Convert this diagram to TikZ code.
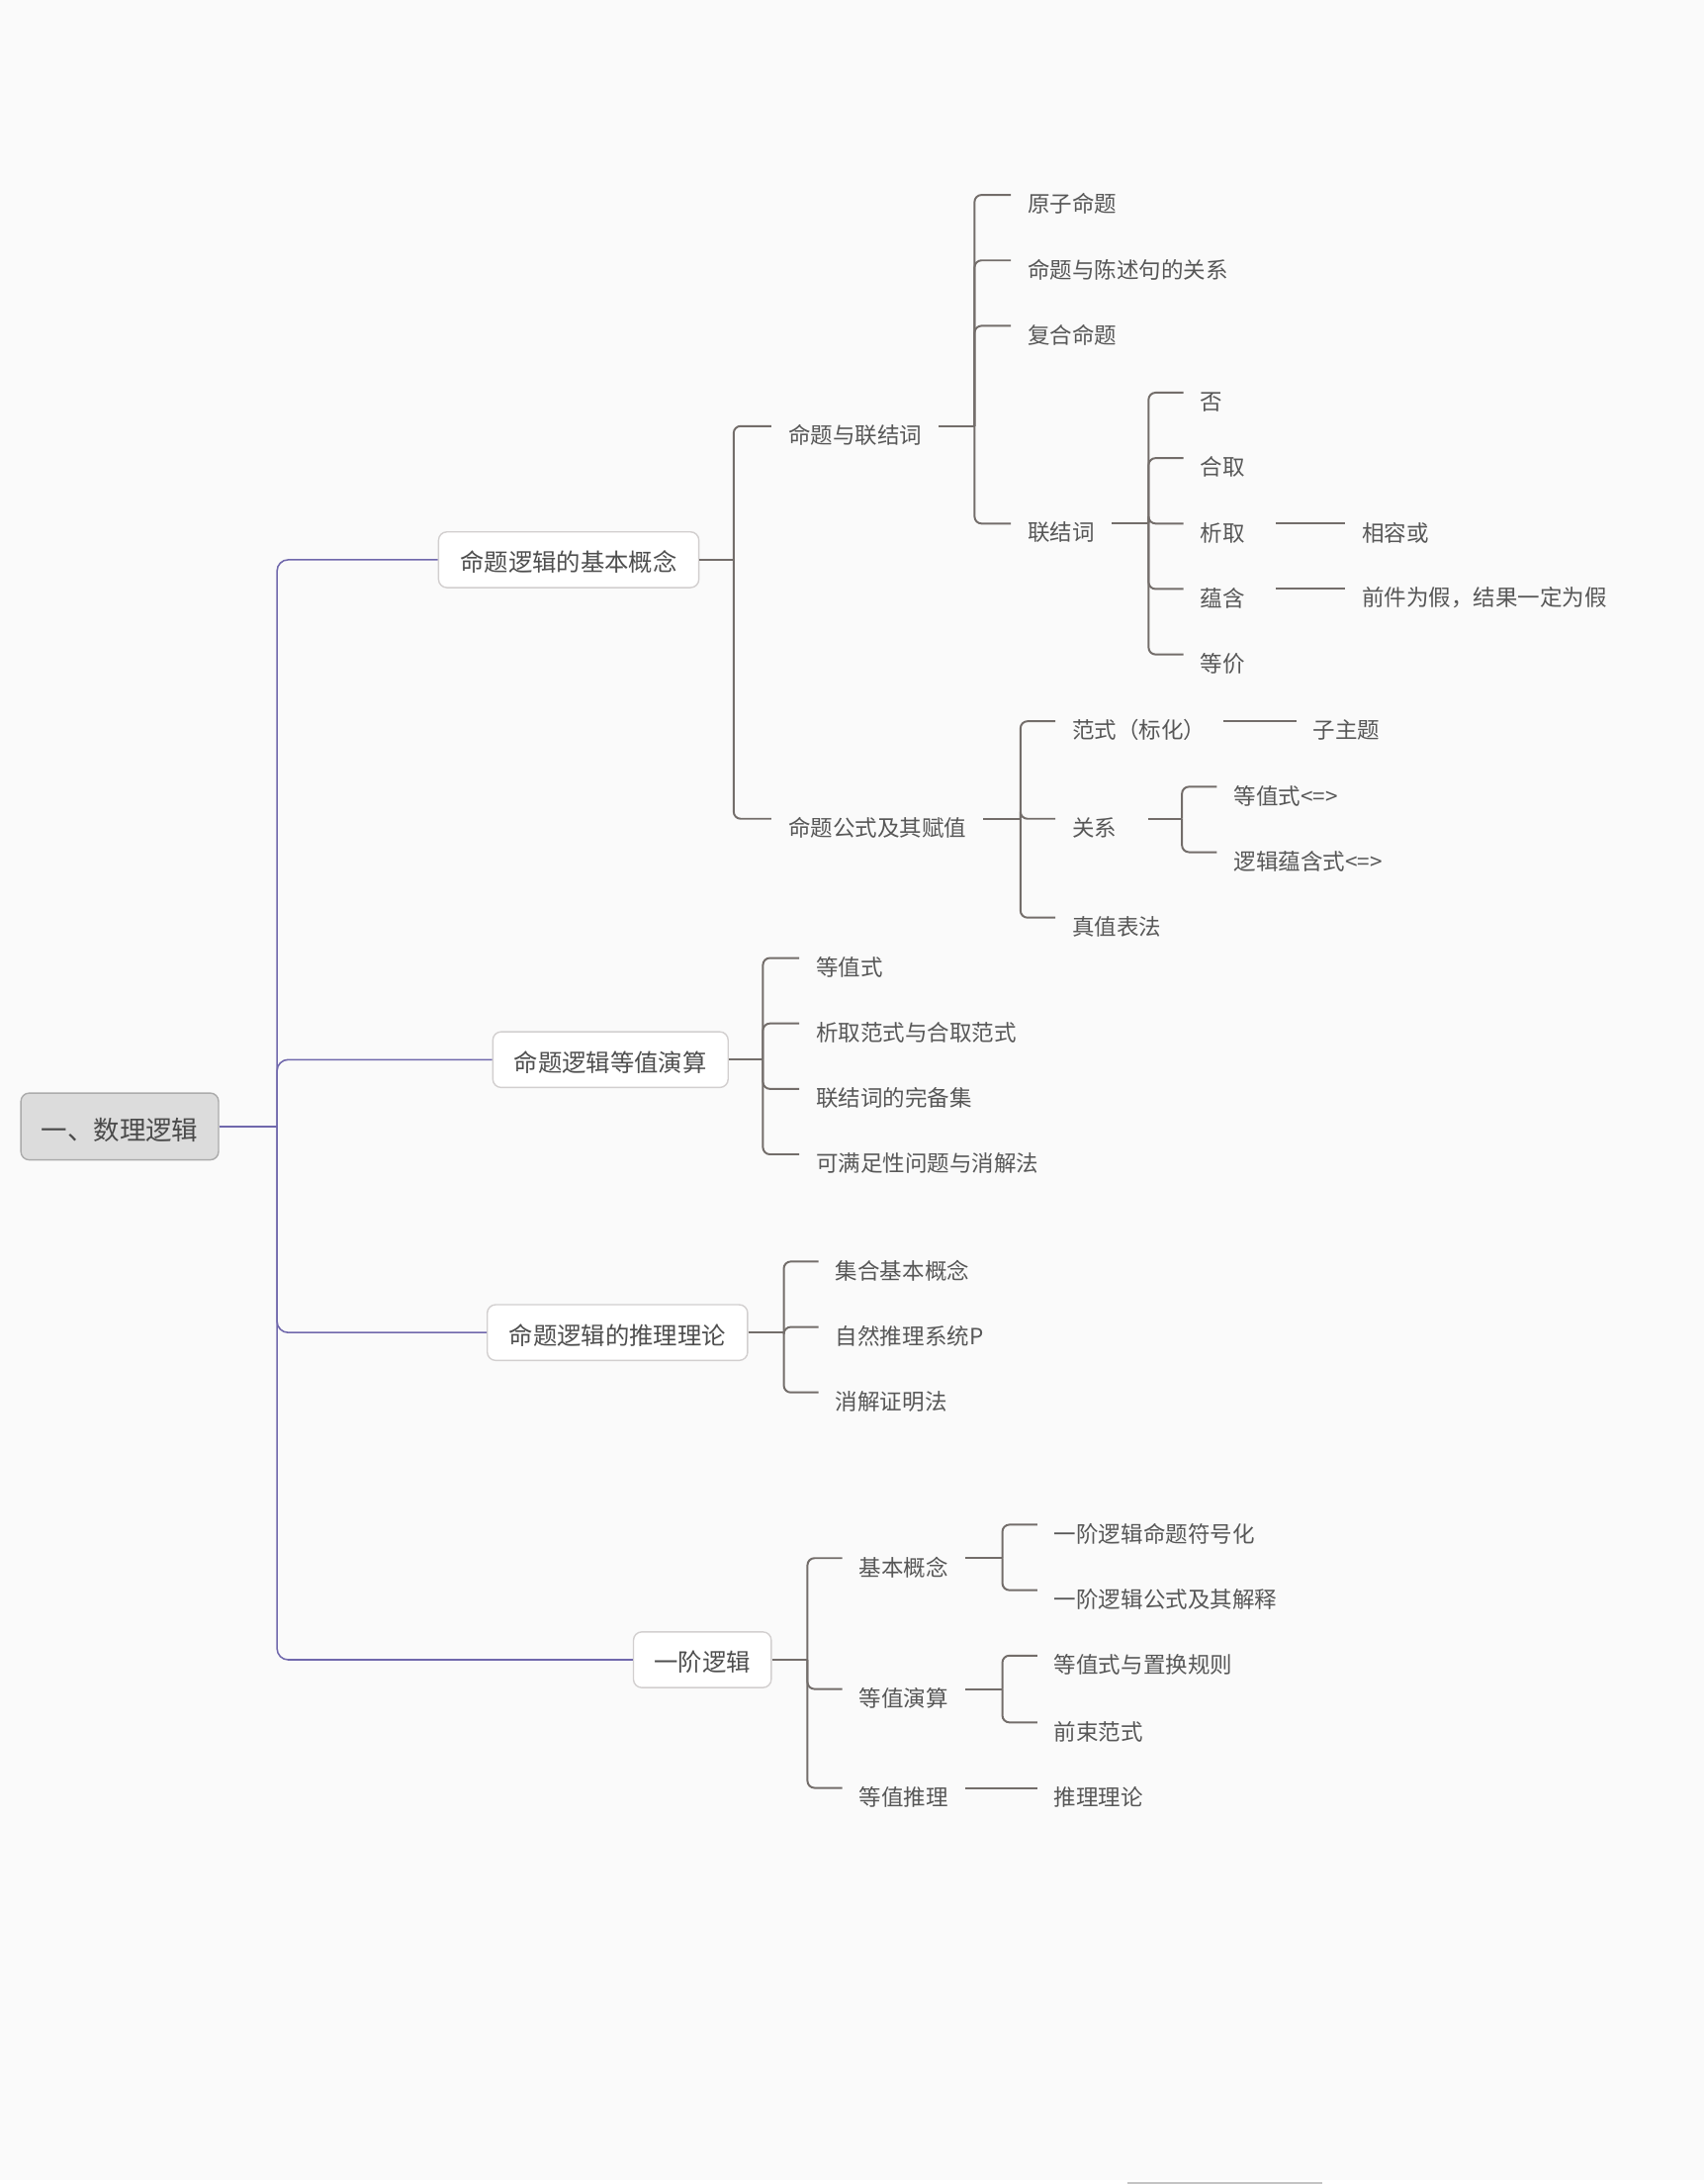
\documentclass[tikz,border=0pt]{standalone}
\usepackage{fontspec}
\setmainfont{Noto Sans CJK SC}
\usetikzlibrary{calc}
\definecolor{bgc}{HTML}{FAFAFA}
\definecolor{pl}{HTML}{7068AC}
\definecolor{gl}{HTML}{736D6A}
\definecolor{txt}{HTML}{575757}
\definecolor{boxb}{HTML}{D2CFCF}
\definecolor{rootf}{HTML}{DCDCDC}
\definecolor{rootb}{HTML}{ABABAB}
\definecolor{barc}{HTML}{C4C4C4}
\tikzset{
  leaf/.style={anchor=west, inner xsep=12pt, inner ysep=2pt, text=txt, yshift=-1.5pt,
    font=\fontsize{16pt}{19pt}\selectfont},
  lonebox/.style={draw=boxb, fill=white, line width=1pt, rounded corners=6pt,
    minimum height=40pt, text=txt!90!black, text height=17pt, text depth=0pt,
    font=\fontsize{17.3pt}{20pt}\selectfont},
  rootbox/.style={draw=rootb, fill=rootf, line width=1pt, rounded corners=6pt,
    minimum height=48pt, minimum width=142pt, text=txt!85!black,
    text height=20pt, text depth=0pt,
    font=\fontsize{18.8pt}{22pt}\selectfont},
  gline/.style={draw=gl, line width=1.4pt, rounded corners=5pt},
  pline/.style={draw=pl, line width=1.1pt, rounded corners=8pt},
}
\newcommand\lf[3]{\node[leaf] (#1) at #2 {#3};}
\newcommand\sbr[2]{\draw[gline] (#1) |- ([yshift=6.5pt]#2.west);}
\begin{document}
\begin{tikzpicture}[x=1pt,y=-1pt]
\useasboundingbox (0,0) rectangle (1224,1568.5);
\fill[bgc] (0,0) rectangle (1224,1568.5);
\fill[white] (0,1565.8) rectangle (1224,1568.5);
\draw[barc, line width=1.2pt] (810,1567.9) -- (950,1567.9);

% root and level 1
\node[rootbox] (root) at (86,809) {一、数理逻辑};
\node[lonebox, minimum width=187pt] (la) at (408.5,402) {命题逻辑的基本概念};
\node[lonebox, minimum width=169pt] (lb) at (438.5,761) {命题逻辑等值演算};
\node[lonebox, minimum width=187pt] (lc) at (443.5,957) {命题逻辑的推理理论};
\node[lonebox, minimum width=99pt] (ld) at (504.5,1192) {一阶逻辑};

\coordinate (rj) at (199,809);
\draw[pline] (root.east) -- (rj);
\draw[pline] (rj) |- (la.west);
\draw[pline] (rj) |- (lb.west);
\draw[pline] (rj) |- (lc.west);
\draw[pline] (rj) |- (ld.west);

% branch A
\lf{a1}{(554,311)}{命题与联结词}
\lf{a2}{(554,593)}{命题公式及其赋值}
\coordinate (ja) at (527,402);
\draw[gline] (la.east) -- (ja);
\sbr{ja}{a1} \sbr{ja}{a2}

\lf{b1}{(726,145)}{原子命题}
\lf{b2}{(726,192)}{命题与陈述句的关系}
\lf{b3}{(726,239)}{复合命题}
\lf{b4}{(726,381)}{联结词}
\coordinate (jb) at (700,306);
\draw[gline] ([yshift=6.5pt]a1.east) -- (jb);
\sbr{jb}{b1} \sbr{jb}{b2} \sbr{jb}{b3} \sbr{jb}{b4}

\lf{c1}{(850,287)}{否}
\lf{c2}{(850,334)}{合取}
\lf{c3}{(850,381)}{析取}
\lf{c4}{(850,428)}{蕴含}
\lf{c5}{(850,475)}{等价}
\coordinate (jc) at (825,376);
\draw[gline] ([yshift=6.5pt]b4.east) -- (jc);
\sbr{jc}{c1} \sbr{jc}{c2} \sbr{jc}{c3} \sbr{jc}{c4} \sbr{jc}{c5}

\lf{d1}{(966,381)}{相容或}
\lf{d2}{(966,428)}{前件为假，结果一定为假}
\draw[gline] ([xshift=10pt,yshift=6.5pt]c3.east) -- ([yshift=6.5pt]d1.west);
\draw[gline] ([xshift=10pt,yshift=6.5pt]c4.east) -- ([yshift=6.5pt]d2.west);

\lf{e1}{(758,523)}{范式（标化）}
\lf{e2}{(758,593)}{关系}
\lf{e3}{(758,664)}{真值表法}
\coordinate (je) at (733,588);
\draw[gline] ([yshift=6.5pt]a2.east) -- (je);
\sbr{je}{e1} \sbr{je}{e2} \sbr{je}{e3}

\lf{f1}{(931,523)}{子主题}
\draw[gline] ([yshift=6.5pt]e1.east) -- ([yshift=6.5pt]f1.west);

\lf{g1}{(874,570)}{等值式<=>}
\lf{g2}{(874,617)}{逻辑蕴含式<=>}
\coordinate (jg) at (849,588);
\draw[gline] ([xshift=10pt,yshift=6.5pt]e2.east) -- (jg);
\sbr{jg}{g1} \sbr{jg}{g2}

% branch B
\lf{h1}{(574,693)}{等值式}
\lf{h2}{(574,740)}{析取范式与合取范式}
\lf{h3}{(574,787)}{联结词的完备集}
\lf{h4}{(574,834)}{可满足性问题与消解法}
\coordinate (jh) at (548,761);
\draw[gline] (lb.east) -- (jh);
\sbr{jh}{h1} \sbr{jh}{h2} \sbr{jh}{h3} \sbr{jh}{h4}

% branch C
\lf{i1}{(588,911)}{集合基本概念}
\lf{i2}{(588,958)}{自然推理系统P}
\lf{i3}{(588,1005)}{消解证明法}
\coordinate (ji) at (563,957);
\draw[gline] (lc.east) -- (ji);
\sbr{ji}{i1} \sbr{ji}{i2} \sbr{ji}{i3}

% branch D
\lf{k1}{(605,1124)}{基本概念}
\lf{k2}{(605,1218)}{等值演算}
\lf{k3}{(605,1289)}{等值推理}
\coordinate (jk) at (580,1192);
\draw[gline] (ld.east) -- (jk);
\sbr{jk}{k1} \sbr{jk}{k2} \sbr{jk}{k3}

\lf{m1}{(745,1100)}{一阶逻辑命题符号化}
\lf{m2}{(745,1147)}{一阶逻辑公式及其解释}
\coordinate (jm) at (720,1119);
\draw[gline] ([yshift=6.5pt]k1.east) -- (jm);
\sbr{jm}{m1} \sbr{jm}{m2}

\lf{m3}{(745,1194)}{等值式与置换规则}
\lf{m4}{(745,1242)}{前束范式}
\coordinate (jn) at (720,1213);
\draw[gline] ([yshift=6.5pt]k2.east) -- (jn);
\sbr{jn}{m3} \sbr{jn}{m4}

\lf{m5}{(745,1289)}{推理理论}
\draw[gline] ([yshift=6.5pt]k3.east) -- ([yshift=6.5pt]m5.west);
\end{tikzpicture}
\end{document}
